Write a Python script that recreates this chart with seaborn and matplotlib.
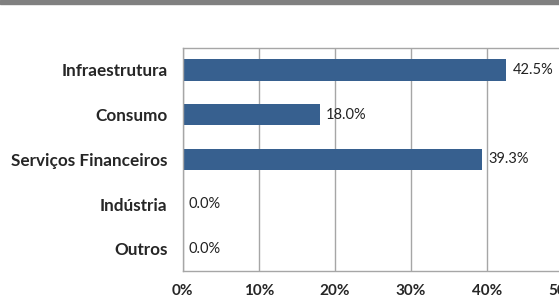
import pandas as pd
import seaborn as sns
import matplotlib.pyplot as plt

sns.set_style(style='white')
plt.rcParams['font.family'] = ['Lato', 'DejaVu Sans']

sectors = ['Infraestrutura', 'Consumo', 'Serviços Financeiros', 'Indústria', 'Outros']
shares = [42.5, 18.0, 39.3, 0.0, 0.0]
x_ticks = [0, 10, 20, 30, 40, 50]

df = pd.DataFrame({'sector': sectors, 'share': shares})

fig = plt.figure(figsize=(5.59, 2.99), dpi=100)
# thin grey strip across the top of the image
fig.patches.append(plt.Rectangle((0, 0.988), 1, 0.012, transform=fig.transFigure,
                                 color='#808080', zorder=0))
ax = fig.add_axes([0.3268, 0.0936, 0.681, 0.747])

sns.barplot(data=df, x='share', y='sector', orient='h', color='#37608f',
            saturation=1, width=0.48, linewidth=0, ax=ax, zorder=3)

ax.set_xlim(0, 50)
ax.set_xticks(x_ticks)
ax.set_xticklabels([f'{t}%' for t in x_ticks], fontsize=11, weight='bold')
ax.tick_params(axis='x', pad=9, length=0)
ax.tick_params(axis='y', pad=11, length=0)
for lab in ax.get_yticklabels():
    lab.set_fontsize(12.3)
    lab.set_fontweight('bold')
ax.set_xlabel('')
ax.set_ylabel('')
ax.xaxis.grid(True, color='#a6a6a6', linewidth=1, zorder=0)
ax.set_axisbelow(True)

for side in ['left', 'top', 'bottom']:
    ax.spines[side].set_color('#a6a6a6')
    ax.spines[side].set_linewidth(1)
    ax.spines[side].set_zorder(4)
ax.spines['right'].set_visible(False)

for i, v in enumerate(shares):
    ax.text(v + 0.8, i, f'{v:.1f}%', va='center', ha='left', fontsize=10.5, color='#222222')

fig.savefig('out.png', dpi=100)
